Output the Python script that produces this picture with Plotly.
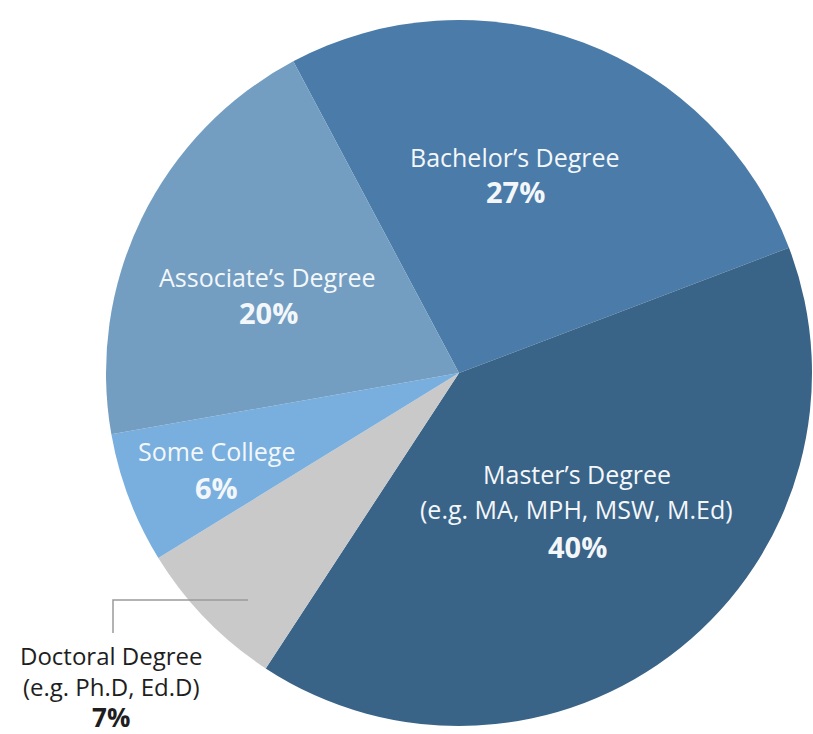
import plotly.graph_objects as go

# Highest degree earned, share of respondents
categories = ["Bachelor’s Degree", "Master’s Degree", "Doctoral Degree", "Some College", "Associate’s Degree"]
subtitles = ["", "(e.g. MA, MPH, MSW, M.Ed)", "(e.g. Ph.D, Ed.D)", "", ""]
shares = [27, 40, 7, 6, 20]
colors = ["#4b7ba8", "#3a6388", "#c9c9c9", "#79afde", "#739ec2"]

W, H = 813, 734
FONT = "'Open Sans', Lato, sans-serif"

fig = go.Figure(
    go.Pie(
        labels=categories,
        values=shares,
        sort=False,
        direction="clockwise",
        rotation=-28,
        marker=dict(colors=colors, line=dict(width=0)),
        textinfo="none",
        hoverinfo="skip",
        showlegend=False,
        domain=dict(x=[106 / W, 812 / W], y=[4 / H, 734 / H - 16 / H]),
    )
)

# label anchor points (pixel centres) for the slices labelled inside: name line(s), then percentage
label_pos = {
    "Bachelor’s Degree": [(515, 157), (515, 191)],
    "Master’s Degree": [(577, 474), (576, 509), (577, 546)],
    "Some College": [(216, 451), (216, 487)],
    "Associate’s Degree": [(267, 277), (268, 312)],
}

annotations = []
for name, sub, val in zip(categories, subtitles, shares):
    if name == "Doctoral Degree":
        # small slice: label sits outside, below the leader line, as one text block
        annotations.append(dict(
            x=111 / W, y=-3 / H, xref="paper", yref="paper",
            text=f"{name}<br>{sub}<br><b><span style='font-size:26px'>{val}%</span></b>",
            showarrow=False, xanchor="center", yanchor="bottom", align="center",
            font=dict(family=FONT, size=24, color="#1e1e1e"),
        ))
        continue
    color = "#f4f7fa"
    lines = [name] + ([sub] if sub else [])
    pts = label_pos[name]
    for (px, py), txt in zip(pts, lines):
        annotations.append(dict(
            x=px / W, y=1 - py / H, xref="paper", yref="paper",
            text=txt, showarrow=False, xanchor="center", yanchor="middle",
            font=dict(family=FONT, size=25, color=color),
        ))
    px, py = pts[-1]
    annotations.append(dict(
        x=px / W, y=1 - py / H, xref="paper", yref="paper",
        text=f"<b>{val}%</b>", showarrow=False, xanchor="center", yanchor="middle",
        font=dict(family=FONT, size=29, color=color),
    ))

# leader line for the outside Doctoral label
leader = dict(type="path", xref="paper", yref="paper",
              path=f"M {248 / W},{1 - 600 / H} L {113 / W},{1 - 600 / H} L {113 / W},{1 - 633 / H}",
              line=dict(color="#9a9a9a", width=1.5))

fig.update_layout(
    width=W, height=H,
    margin=dict(l=0, r=0, t=0, b=0),
    paper_bgcolor="white", plot_bgcolor="white",
    annotations=annotations,
    shapes=[leader],
    font=dict(family=FONT),
)

fig.write_html("out.html")
